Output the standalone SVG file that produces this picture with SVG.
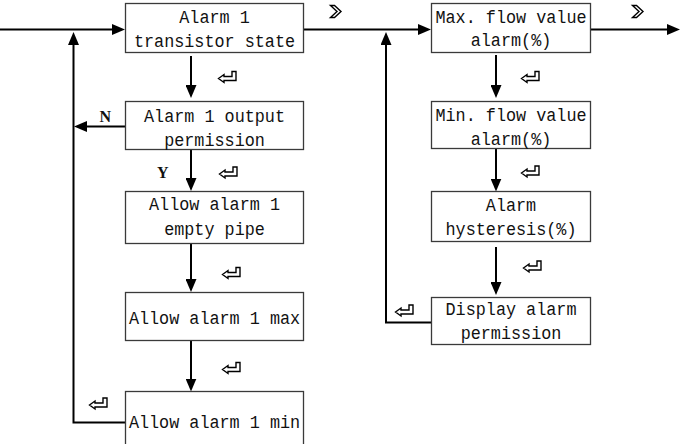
<svg xmlns="http://www.w3.org/2000/svg" xmlns:xlink="http://www.w3.org/1999/xlink" width="681" height="444" viewBox="0 0 681 444">
<style>
  .box { fill: #ffffff; stroke: #3a3a3a; stroke-width: 1.3; }
  .lbl { font-family: "Liberation Mono", "DejaVu Sans Mono", monospace; font-size: 16.8px; fill: #111; text-anchor: middle; }
  .yn { font-family: "Liberation Serif", "Times New Roman", serif; font-size: 16px; font-weight: bold; fill: #111; }
  .conn { fill: none; stroke: #000; stroke-width: 2; }
  .icon { fill: #fff; stroke: #000; stroke-width: 1.4; stroke-linejoin: miter; }
</style>
<defs>
  <marker id="ah" viewBox="0 0 13 11" refX="9" refY="5.5" markerWidth="13" markerHeight="11" markerUnits="userSpaceOnUse" orient="auto">
    <path d="M0,0 L13,5.5 L0,11 z" fill="#000"/>
  </marker>
  <polygon id="ret" class="icon" points="0.5,7.5 6,3.5 6,5.5 14,5.5 14,0.5 18,0.5 18,9.5 6,9.5 6,11.5"/>
  <polygon id="chev" class="icon" points="0.5,0.5 4.5,0.5 11,6.5 4.5,12.5 0.5,12.5 7,6.5"/>
</defs>
<rect width="681" height="444" fill="#fff"/>

<g id="connectors">
  <path class="conn" d="M0,29.5 H121" marker-end="url(#ah)"/>
  <path class="conn" d="M303,29.5 H427" marker-end="url(#ah)"/>
  <path class="conn" d="M591,29.5 H676" marker-end="url(#ah)"/>
  <path class="conn" d="M191,56 V94" marker-end="url(#ah)"/>
  <path class="conn" d="M191,149 V187" marker-end="url(#ah)"/>
  <path class="conn" d="M191,243 V288" marker-end="url(#ah)"/>
  <path class="conn" d="M191,341 V387.5" marker-end="url(#ah)"/>
  <path class="conn" d="M125,126.5 H78" marker-end="url(#ah)"/>
  <path class="conn" d="M125,422.5 H73.5 V36" marker-end="url(#ah)"/>
  <path class="conn" d="M496,55 V94" marker-end="url(#ah)"/>
  <path class="conn" d="M496,148 V187.5" marker-end="url(#ah)"/>
  <path class="conn" d="M496,247 V291" marker-end="url(#ah)"/>
  <path class="conn" d="M431,322.5 H386 V36" marker-end="url(#ah)"/>
  <use xlink:href="#chev" x="330" y="5"/>
  <use xlink:href="#chev" x="632" y="5"/>
  <use xlink:href="#ret" x="218" y="71"/>
  <use xlink:href="#ret" x="219" y="166.5"/>
  <use xlink:href="#ret" x="222" y="267"/>
  <use xlink:href="#ret" x="222" y="362"/>
  <use xlink:href="#ret" x="89" y="397.5"/>
  <use xlink:href="#ret" x="521" y="71"/>
  <use xlink:href="#ret" x="521" y="165.5"/>
  <use xlink:href="#ret" x="523" y="260.5"/>
  <use xlink:href="#ret" x="395" y="304.5"/>
  <text class="yn" x="99.5" y="121.5">N</text>
  <text class="yn" x="157" y="178">Y</text>
</g>

<g id="n1">
  <rect class="box" x="125.5" y="3.5" width="178" height="49"/>
  <text class="lbl" transform="translate(214.5,23) scale(1,1.13)">Alarm 1</text>
  <text class="lbl" transform="translate(214.5,46.5) scale(1,1.13)">transistor state</text>
</g>
<g id="n2">
  <rect class="box" x="125.5" y="101.5" width="178" height="48"/>
  <text class="lbl" transform="translate(214.5,121.5) scale(1,1.13)">Alarm 1 output</text>
  <text class="lbl" transform="translate(214.5,145.5) scale(1,1.13)">permission</text>
</g>
<g id="n3">
  <rect class="box" x="125.5" y="191.5" width="178" height="52"/>
  <text class="lbl" transform="translate(214.5,210) scale(1,1.13)">Allow alarm 1</text>
  <text class="lbl" transform="translate(214.5,235) scale(1,1.13)">empty pipe</text>
</g>
<g id="n4">
  <rect class="box" x="125.5" y="292.5" width="178" height="48"/>
  <text class="lbl" transform="translate(214.5,323.5) scale(1,1.13)">Allow alarm 1 max</text>
</g>
<g id="n5">
  <rect class="box" x="125.5" y="391.5" width="178" height="60"/>
  <text class="lbl" transform="translate(214.5,428) scale(1,1.13)">Allow alarm 1 min</text>
</g>
<g id="n6">
  <rect class="box" x="431.5" y="3.5" width="159" height="49"/>
  <text class="lbl" transform="translate(511,23) scale(1,1.13)">Max. flow value</text>
  <text class="lbl" transform="translate(511,46) scale(1,1.13)">alarm(%)</text>
</g>
<g id="n7">
  <rect class="box" x="431.5" y="101.5" width="159" height="47"/>
  <text class="lbl" transform="translate(511,120.5) scale(1,1.13)">Min. flow value</text>
  <text class="lbl" transform="translate(511,144.5) scale(1,1.13)">alarm(%)</text>
</g>
<g id="n8">
  <rect class="box" x="431.5" y="191.5" width="159" height="50"/>
  <text class="lbl" transform="translate(511,211) scale(1,1.13)">Alarm</text>
  <text class="lbl" transform="translate(511,235) scale(1,1.13)">hysteresis(%)</text>
</g>
<g id="n9">
  <rect class="box" x="431.5" y="297.5" width="159" height="47"/>
  <text class="lbl" transform="translate(511,315) scale(1,1.13)">Display alarm</text>
  <text class="lbl" transform="translate(511,338.5) scale(1,1.13)">permission</text>
</g>
</svg>
